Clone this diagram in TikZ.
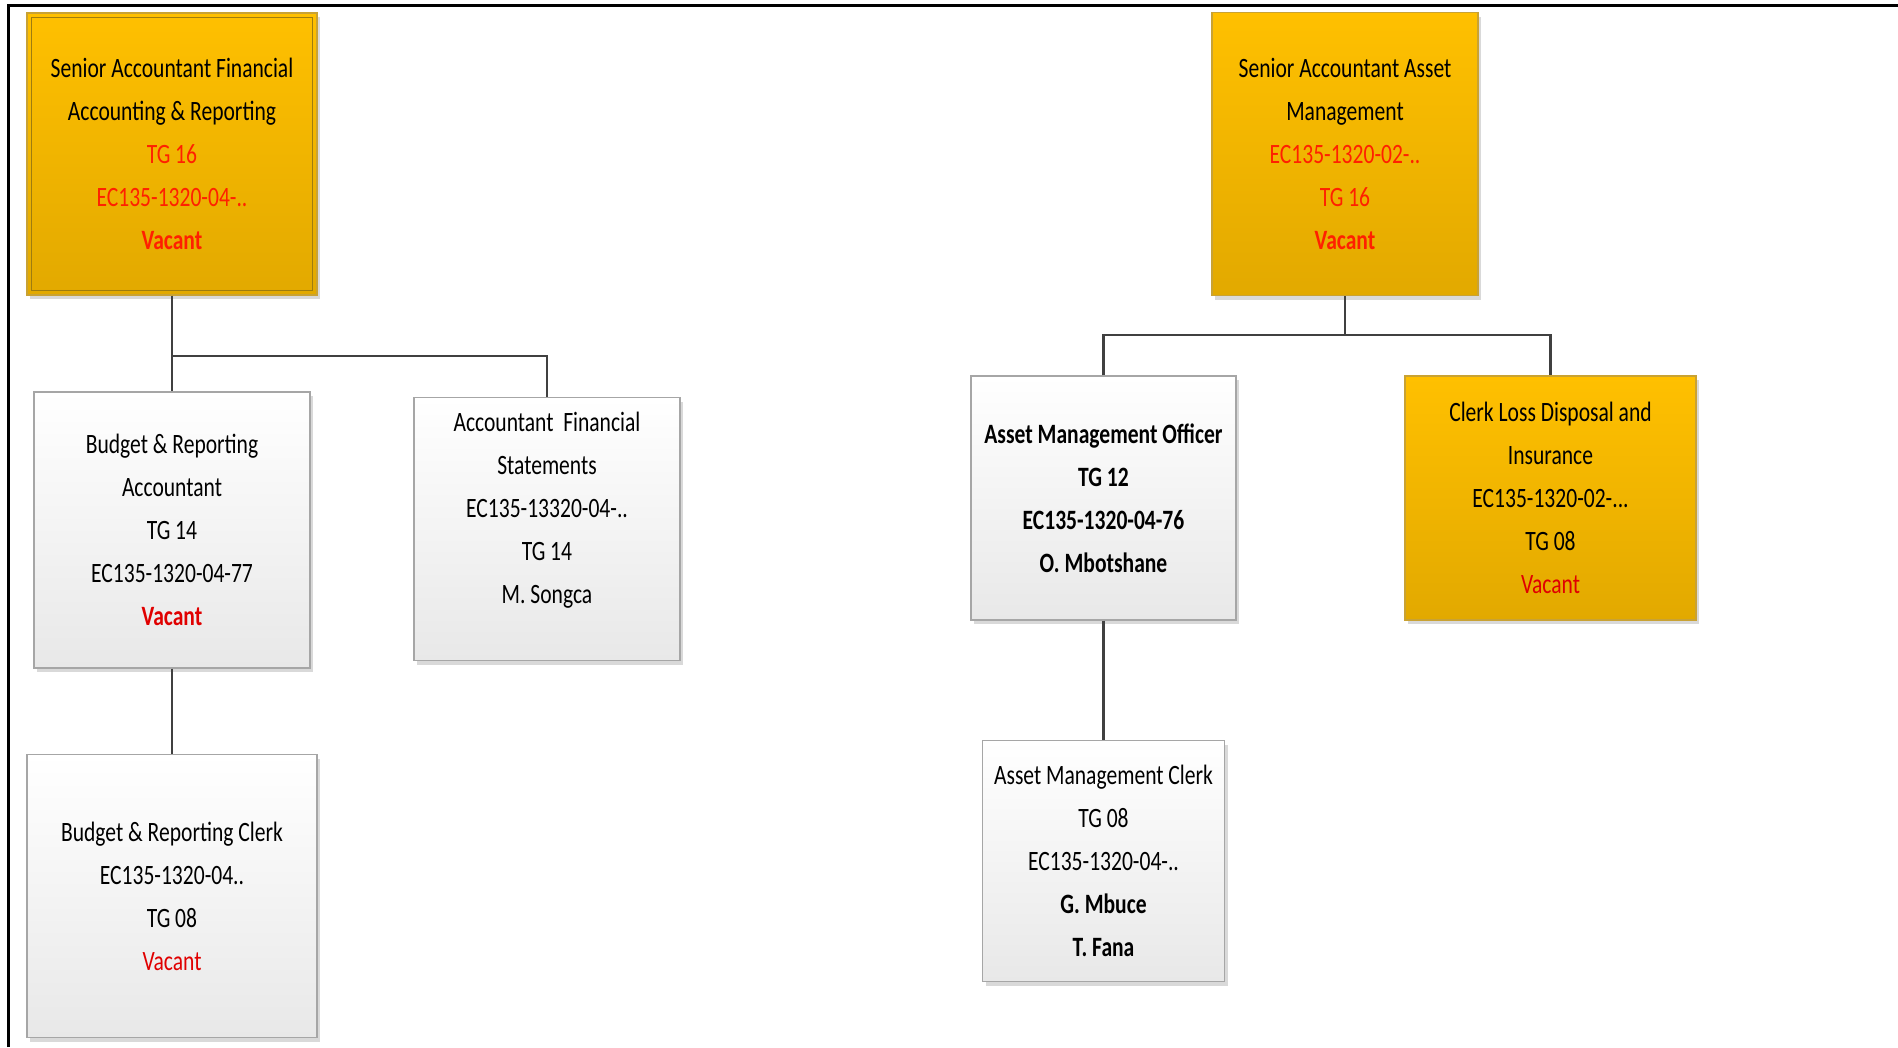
\documentclass[tikz,border=0pt]{standalone}
\usepackage{fontspec}
\setmainfont{Carlito}[FakeStretch=0.77]
\usetikzlibrary{shadows}
\definecolor{goldtop}{HTML}{FFC000}
\definecolor{goldbot}{HTML}{E2A900}
\definecolor{goldedge}{HTML}{C9A233}
\definecolor{goldinner}{HTML}{9E7C10}
\definecolor{grayedge}{HTML}{A6A6A6}
\definecolor{graybot}{HTML}{E8E8E8}
\definecolor{connline}{HTML}{404040}
\definecolor{redtxt}{HTML}{FF2000}
\definecolor{vacred}{HTML}{E00000}
\begin{document}
\begin{tikzpicture}[x=1pt,y=-1pt,
  box/.style={rectangle, inner sep=0pt, align=center,
    font=\fontsize{28}{43}\selectfont, line width=1.2pt,
    drop shadow={shadow xshift=3pt, shadow yshift=-4pt, opacity=0.25, fill=black!60}},
  whitebox/.style={box, draw=grayedge, top color=white, bottom color=graybot},
  goldbox/.style={box, draw=goldedge, top color=goldtop, bottom color=goldbot},
  conn/.style={draw=connline, line width=2.6pt}
]
\useasboundingbox (0,0) rectangle (1898,1047);

% frame lines
\draw[line width=3pt] (8,1047) -- (8,5) -- (1898,5);

% left branch
\node[goldbox, minimum width=290, minimum height=282] (b1) at (172,154)
  {Senior Accountant Financial\\Accounting \& Reporting\\
   \textcolor{redtxt}{TG 16}\\\textcolor{redtxt}{EC135-1320-04-..}\\
   \textcolor{redtxt}{\bfseries Vacant}};
\draw[goldinner, line width=1pt]
  ([shift={(5pt,-5pt)}]b1.north west) rectangle ([shift={(-5pt,5pt)}]b1.south east);

\node[whitebox, minimum width=276, minimum height=276] (b3) at (172,530)
  {Budget \& Reporting\\Accountant\\TG 14\\EC135-1320-04-77\\
   \textcolor{vacred}{\bfseries Vacant}};

\node[whitebox, minimum width=266, minimum height=263] (b4) at (547,529)
  {Accountant\ \ Financial\\Statements\\EC135-13320-04-..\\TG 14\\M. Songca\\[-14pt]\strut};

\node[whitebox, minimum width=290, minimum height=283] (b5) at (172,896)
  {Budget \& Reporting Clerk\\EC135-1320-04..\\TG 08\\\textcolor{vacred}{Vacant}};

% right branch
\node[goldbox, minimum width=266, minimum height=283] (b2) at (1345,154)
  {Senior Accountant Asset\\Management\\
   \textcolor{redtxt}{EC135-1320-02-..}\\\textcolor{redtxt}{TG 16}\\
   \textcolor{redtxt}{\bfseries Vacant}};

\node[whitebox, minimum width=265, minimum height=244, font=\fontsize{28}{43}\selectfont\bfseries] (b6) at (1103.5,498)
  {Asset Management Officer\\TG 12\\EC135-1320-04-76\\O. Mbotshane};

\node[goldbox, minimum width=291, minimum height=244] (b7) at (1550.5,498)
  {Clerk Loss Disposal and\\Insurance\\EC135-1320-02-...\\TG 08\\
   \textcolor{vacred}{Vacant}};

\node[whitebox, minimum width=242, minimum height=241] (b8) at (1103.5,861)
  {Asset Management Clerk\\TG 08\\EC135-1320-04-..\\
   \textbf{G. Mbuce}\\\textbf{T. Fana}};

% connectors
\coordinate (lbar) at (172,356);
\coordinate (rbar) at (1345,335);
\draw[conn] (b1.south) -- (lbar) -| (b4.north);
\draw[conn] (lbar) -- (b3.north);
\draw[conn] (b3.south) -- (b5.north);
\draw[conn] (b2.south) -- (rbar);
\draw[conn] (b6.north) -- (b6.north |- rbar) -- (b7.north |- rbar) -- (b7.north);
\draw[conn] (b6.south) -- (b8.north);
\end{tikzpicture}
\end{document}
